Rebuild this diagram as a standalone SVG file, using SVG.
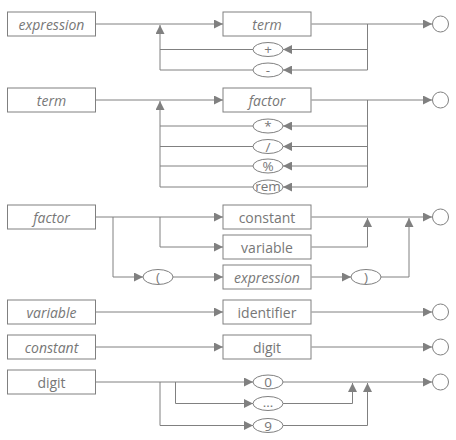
<svg xmlns="http://www.w3.org/2000/svg" width="456" height="440" viewBox="0 0 456 440">
<defs>
<marker id="a" viewBox="0 0 10 10" markerUnits="userSpaceOnUse" markerWidth="9" markerHeight="9" refX="10" refY="5" orient="auto"><path d="M0,0 L10,5 L0,10 z" fill="#808080"/></marker>
<style>
.b{fill:#fff;stroke:#808080;stroke-width:1}
.t{font-family:"Open Sans","Noto Sans",sans-serif;font-size:14px;fill:#777;text-anchor:middle;dominant-baseline:central}
.i{font-style:italic}
.o{font-family:"Open Sans","Noto Sans",sans-serif;font-size:13.5px;fill:#777;text-anchor:middle}
.c{fill:none;stroke:#808080;stroke-width:1}
.c path{marker-end:url(#a)}
.c path.n{marker-end:none}
</style>
</defs>
<rect width="456" height="440" fill="#fff"/>
<g class="c">
<!-- expression -->
<path d="M95.5,24 H223"/>
<path d="M311.5,24 H432"/>
<path class="n" d="M367.5,24 V70"/>
<path d="M367.5,49.5 H283"/>
<path d="M367.5,70 H283"/>
<path class="n" d="M253,49.5 H160 M253,70 H160"/>
<path d="M160,70 V25"/>
<!-- term -->
<path d="M95.5,100 H223"/>
<path d="M311.5,100 H432"/>
<path class="n" d="M367.5,100 V187"/>
<path d="M367.5,126 H283"/>
<path d="M367.5,146.5 H283"/>
<path d="M367.5,166 H283"/>
<path d="M367.5,187 H283"/>
<path class="n" d="M253,126 H160 M253,146.5 H160 M253,166 H160 M253,187 H160"/>
<path d="M160,187 V101"/>
<!-- factor -->
<path d="M95.5,217 H223"/>
<path d="M113,217 V277 H143"/>
<path d="M173,277 H223"/>
<path d="M160,217 V247 H223"/>
<path d="M311.5,217 H432"/>
<path d="M311.5,247 H367.5 V218"/>
<path d="M311.5,277 H351"/>
<path d="M381,277 H409 V218"/>
<!-- variable -->
<path d="M95.5,312 H223"/>
<path d="M311.5,312 H432"/>
<!-- constant -->
<path d="M95.5,347 H223"/>
<path d="M311.5,347 H432"/>
<!-- digit -->
<path d="M95.5,382 H253"/>
<path d="M175.5,382 V403.5 H253"/>
<path d="M160,382 V425.5 H253"/>
<path d="M283,382 H432"/>
<path d="M283,403.5 H352.5 V383"/>
<path d="M283,425.5 H367.5 V383"/>
</g>
<g id="n-expression"><rect class="b" x="7.5" y="12" width="88" height="24"/><text class="t i" x="51.5" y="24">expression</text></g>
<g id="n-expression-term"><rect class="b" x="223" y="12" width="88" height="24"/><text class="t i" x="267" y="24">term</text></g>
<g id="n-plus"><ellipse class="b" cx="268" cy="49.5" rx="15" ry="7"/><text class="o" x="268" y="54">+</text></g>
<g id="n-minus"><ellipse class="b" cx="268" cy="70" rx="15" ry="7"/><text class="o" x="268" y="74.5">-</text></g>
<g id="n-expression-end"><circle class="b" cx="440.5" cy="24" r="8"/></g>

<g id="n-term"><rect class="b" x="7.5" y="88" width="88" height="24"/><text class="t i" x="51.5" y="100">term</text></g>
<g id="n-term-factor"><rect class="b" x="223" y="88" width="88" height="24"/><text class="t i" x="267" y="100">factor</text></g>
<g id="n-mul"><ellipse class="b" cx="268" cy="126" rx="15" ry="7"/><text class="o" x="268" y="131">*</text></g>
<g id="n-div"><ellipse class="b" cx="268" cy="146.5" rx="15" ry="7"/><text class="o" x="268" y="151.5">/</text></g>
<g id="n-mod"><ellipse class="b" cx="268" cy="166" rx="15" ry="7"/><text class="o" x="268" y="170.5">%</text></g>
<g id="n-rem"><ellipse class="b" cx="268" cy="187" rx="15" ry="7"/><text class="o" x="268" y="190.5">rem</text></g>
<g id="n-term-end"><circle class="b" cx="440.5" cy="100" r="8"/></g>

<g id="n-factor"><rect class="b" x="7.5" y="205" width="88" height="24"/><text class="t i" x="51.5" y="217">factor</text></g>
<g id="n-factor-constant"><rect class="b" x="223" y="205" width="88" height="24"/><text class="t" x="267" y="217">constant</text></g>
<g id="n-factor-variable"><rect class="b" x="223" y="235" width="88" height="24"/><text class="t" x="267" y="247">variable</text></g>
<g id="n-factor-expression"><rect class="b" x="223" y="265" width="88" height="24"/><text class="t i" x="267" y="277">expression</text></g>
<g id="n-lparen"><ellipse class="b" cx="158" cy="277" rx="15" ry="7.5"/><text class="o" x="158" y="281.5">(</text></g>
<g id="n-rparen"><ellipse class="b" cx="366" cy="277" rx="15" ry="7.5"/><text class="o" x="366" y="281.5">)</text></g>
<g id="n-factor-end"><circle class="b" cx="440.5" cy="217" r="8"/></g>

<g id="n-variable"><rect class="b" x="7.5" y="300" width="88" height="24"/><text class="t i" x="51.5" y="312">variable</text></g>
<g id="n-identifier"><rect class="b" x="223" y="300" width="88" height="24"/><text class="t" x="267" y="312">identifier</text></g>
<g id="n-variable-end"><circle class="b" cx="440.5" cy="312" r="8"/></g>

<g id="n-constant"><rect class="b" x="7.5" y="335" width="88" height="24"/><text class="t i" x="51.5" y="347">constant</text></g>
<g id="n-constant-digit"><rect class="b" x="223" y="335" width="88" height="24"/><text class="t" x="267" y="347">digit</text></g>
<g id="n-constant-end"><circle class="b" cx="440.5" cy="347" r="8"/></g>

<g id="n-digit"><rect class="b" x="7.5" y="370" width="88" height="24"/><text class="t" x="51.5" y="382">digit</text></g>
<g id="n-zero"><ellipse class="b" cx="268" cy="382" rx="15" ry="7"/><text class="o" x="268" y="387">0</text></g>
<g id="n-dots"><ellipse class="b" cx="268" cy="403.5" rx="15" ry="7"/><text class="o" x="268" y="407">…</text></g>
<g id="n-nine"><ellipse class="b" cx="268" cy="425.5" rx="15" ry="7"/><text class="o" x="268" y="430.5">9</text></g>
<g id="n-digit-end"><circle class="b" cx="440.5" cy="382" r="8"/></g>
</svg>
